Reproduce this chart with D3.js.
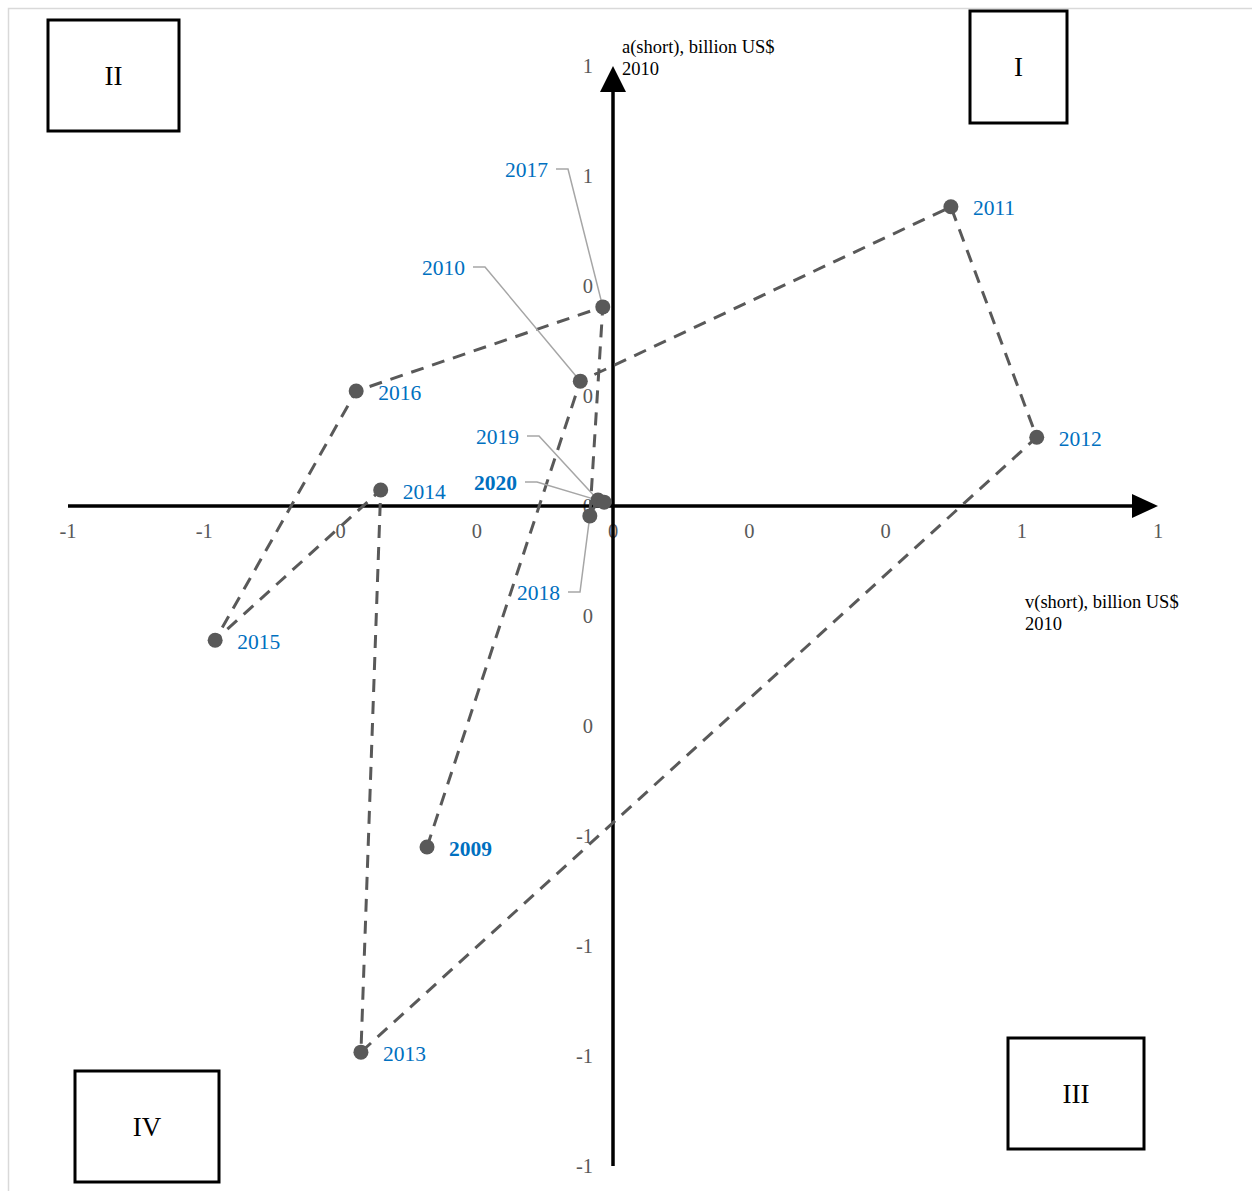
<!DOCTYPE html>
<html>
<head>
<meta charset="utf-8">
<script src="https://cdnjs.cloudflare.com/ajax/libs/d3/7.8.5/d3.min.js"></script>
<style>
  html, body { margin: 0; padding: 0; background: #fff; }
  svg { display: block; font-family: "Liberation Serif", "Times New Roman", serif; }
</style>
</head>
<body>
<svg id="chart" width="1252" height="1191"></svg>
<script>
// Years and their v(short) / a(short) coordinates, billion US$ 2010
const years = [2009, 2010, 2011, 2012, 2013, 2014, 2015, 2016, 2017, 2018, 2019, 2020];
const vShort = [-0.273, -0.048, 0.496, 0.622, -0.370, -0.341, -0.584, -0.377, -0.015, -0.034, -0.022, -0.013];
const aShort = [-0.620, 0.227, 0.544, 0.125, -0.993, 0.029, -0.244, 0.209, 0.362, -0.018, 0.011, 0.007];
const boldYears = [2009, 2020];

// Axis ticks and their printed labels (integer number format)
const xTicks = [-0.8, -0.6, -0.4, -0.2, 0, 0.2, 0.4, 0.6, 0.8];
const xTickLabels = ["-1", "-1", "0", "0", "0", "0", "0", "1", "1"];
const yTicks = [0.8, 0.6, 0.4, 0.2, 0, -0.2, -0.4, -0.6, -0.8, -1.0, -1.2];
const yTickLabels = ["1", "1", "0", "0", "0", "0", "0", "-1", "-1", "-1", "-1"];

const quadrants = ["I", "II", "III", "IV"];

// Label placement: plain offsets to the right, or call-out labels with leader lines
const calloutLayout = {
  2010: { tx: 465, ty: 267 },
  2017: { tx: 548, ty: 169 },
  2019: { tx: 519, ty: 436 },
  2020: { tx: 517, ty: 482 },
  2018: { tx: 560, ty: 592 }
};
const quadBoxes = {
  "I":   { x: 970,  y: 11,   w: 97,  h: 112 },
  "II":  { x: 48,   y: 20,   w: 131, h: 111 },
  "III": { x: 1008, y: 1038, w: 136, h: 111 },
  "IV":  { x: 75,   y: 1071, w: 144, h: 111 }
};

const data = years.map((yr, i) => ({ year: yr, v: vShort[i], a: aShort[i] }));

const svg = d3.select("#chart");

// outer chart border
svg.append("rect")
  .attr("x", 8.5).attr("y", 8.5).attr("width", 1260).attr("height", 1200)
  .attr("fill", "none").attr("stroke", "#d9d9d9").attr("stroke-width", 1.5);

const x = d3.scaleLinear().domain([-0.8, 0.8]).range([68, 1158]);
const y = d3.scaleLinear().domain([-1.2, 0.8]).range([1166, 66]);

const tickColor = "#595959";

// x tick labels
svg.append("g").selectAll("text")
  .data(xTicks)
  .join("text")
  .attr("x", d => x(d))
  .attr("y", y(0) + 25)
  .attr("dy", "0.35em")
  .attr("text-anchor", "middle")
  .attr("font-size", 20.5)
  .attr("fill", tickColor)
  .text((d, i) => xTickLabels[i]);

// y tick labels
svg.append("g").selectAll("text")
  .data(yTicks)
  .join("text")
  .attr("x", x(0) - 20)
  .attr("y", d => y(d))
  .attr("dy", "0.35em")
  .attr("text-anchor", "end")
  .attr("font-size", 20.5)
  .attr("fill", tickColor)
  .text((d, i) => yTickLabels[i]);

// axes with arrowheads
const axisG = svg.append("g");
const x0 = x(0), y0 = y(0);
const xEnd = x(0.8), yTop = y(0.8), yBottom = y(-1.2), xStart = x(-0.8);
axisG.append("line")
  .attr("x1", xStart).attr("x2", xEnd - 22).attr("y1", y0).attr("y2", y0)
  .attr("stroke", "#000").attr("stroke-width", 3.5);
axisG.append("path")
  .attr("d", `M${xEnd},${y0} L${xEnd - 26},${y0 - 12} L${xEnd - 26},${y0 + 12} Z`)
  .attr("fill", "#000");
axisG.append("line")
  .attr("x1", x0).attr("x2", x0).attr("y1", yBottom).attr("y2", yTop + 22)
  .attr("stroke", "#000").attr("stroke-width", 3.5);
axisG.append("path")
  .attr("d", `M${x0},${yTop} L${x0 - 13},${yTop + 26} L${x0 + 13},${yTop + 26} Z`)
  .attr("fill", "#000");

// axis titles
const yTitle = svg.append("text").attr("x", x0 + 9).attr("y", 53)
  .attr("font-size", 18.5).attr("fill", "#000");
yTitle.append("tspan").attr("x", x0 + 9).text("a(short), billion US$");
yTitle.append("tspan").attr("x", x0 + 9).attr("dy", 22).text("2010");

const xTitle = svg.append("text").attr("x", 1025).attr("y", 608)
  .attr("font-size", 18.5).attr("fill", "#000");
xTitle.append("tspan").attr("x", 1025).text("v(short), billion US$");
xTitle.append("tspan").attr("x", 1025).attr("dy", 22).text("2010");

// trajectory, dashed
const line = d3.line().x(d => x(d.v)).y(d => y(d.a));
svg.append("path")
  .datum(data)
  .attr("d", line)
  .attr("fill", "none")
  .attr("stroke", "#595959")
  .attr("stroke-width", 3)
  .attr("stroke-dasharray", "13,9");

// leader lines for call-out labels
const leaderG = svg.append("g");
data.filter(d => calloutLayout[d.year]).forEach(d => {
  const c = calloutLayout[d.year];
  const px = x(d.v), py = y(d.a);
  const pts = [[c.tx + 8, c.ty], [c.tx + 20, c.ty], [px, py]];
  leaderG.append("path")
    .attr("d", d3.line()(pts))
    .attr("fill", "none")
    .attr("stroke", "#a6a6a6")
    .attr("stroke-width", 1.5);
});

// markers
svg.append("g").selectAll("circle")
  .data(data)
  .join("circle")
  .attr("cx", d => x(d.v))
  .attr("cy", d => y(d.a))
  .attr("r", 7.5)
  .attr("fill", "#595959");

// year labels
svg.append("g").selectAll("text")
  .data(data)
  .join("text")
  .attr("x", d => calloutLayout[d.year] ? calloutLayout[d.year].tx : x(d.v) + 22)
  .attr("y", d => calloutLayout[d.year] ? calloutLayout[d.year].ty : y(d.a) + 1)
  .attr("dy", "0.35em")
  .attr("text-anchor", d => calloutLayout[d.year] ? "end" : "start")
  .attr("font-size", 21.5)
  .attr("font-weight", d => boldYears.includes(d.year) ? "bold" : "normal")
  .attr("fill", "#0070c0")
  .text(d => d.year);

// quadrant boxes
const qG = svg.append("g");
quadrants.forEach(q => {
  const b = quadBoxes[q];
  qG.append("rect")
    .attr("x", b.x).attr("y", b.y).attr("width", b.w).attr("height", b.h)
    .attr("fill", "#fff").attr("stroke", "#000").attr("stroke-width", 3);
  qG.append("text")
    .attr("x", b.x + b.w / 2).attr("y", b.y + b.h / 2)
    .attr("dy", "0.35em")
    .attr("text-anchor", "middle")
    .attr("font-size", 27)
    .attr("fill", "#000")
    .text(q);
});
</script>
</body>
</html>
